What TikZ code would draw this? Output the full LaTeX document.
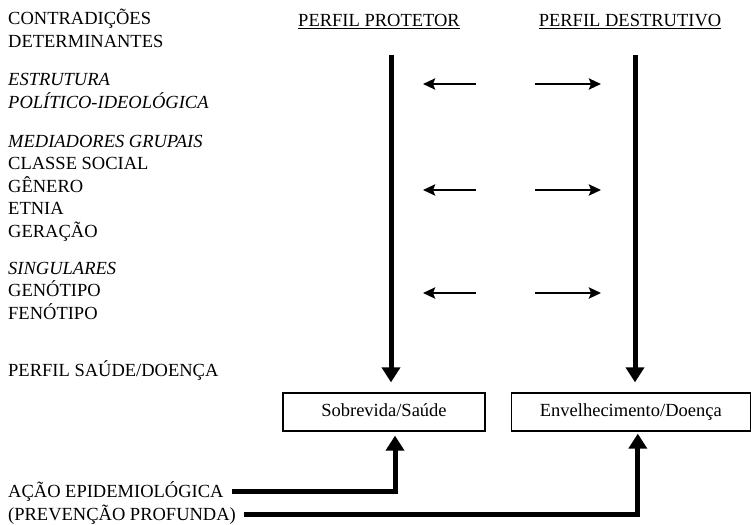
\documentclass[tikz,border=0pt]{standalone}
\usepackage{fontspec}
\setmainfont{Liberation Serif}
\usetikzlibrary{arrows.meta,positioning}
\tikzset{
txt/.style={font=\fontsize{18.5}{22.5}\selectfont, inner sep=0pt, align=left, anchor=base west}, % left column texts, base = last line
head/.style={font=\fontsize{18.5}{22.5}\selectfont, inner sep=0pt, anchor=base},
box/.style={draw, line width=1.3pt, minimum height=38pt, text height=13pt, text depth=4pt, font=\fontsize{18.5}{22.5}\selectfont},
flow/.style={line width=5pt, -{Triangle[width=18pt,length=15pt]}}, % the thick arrows
side/.style={line width=2.5pt, -{Stealth[width=11pt,length=12pt,inset=2pt]}},
}

\begin{document}
\begin{tikzpicture}[x=1pt,y=-1pt]
\useasboundingbox (0,0) rectangle (751,524);
% left column
\node[txt] (contra) at (8,47.5) {CONTRADIÇÕES\\DETERMINANTES};
\node[txt] (estrutura) at (8,108.5) {{\itshape ESTRUTURA}\\{\itshape POLÍTICO-IDEOLÓGICA}};
\node[txt] (mediadores) at (8,237) {{\itshape MEDIADORES GRUPAIS}\\CLASSE SOCIAL\\GÊNERO\\ETNIA\\GERAÇÃO};
\node[txt] (singulares) at (8,319) {{\itshape SINGULARES}\\GENÓTIPO\\FENÓTIPO};
\node[txt] (perfil) at (8,376) {PERFIL SAÚDE/DOENÇA};
\node[txt] (acao) at (8,497) {AÇÃO EPIDEMIOLÓGICA};
\node[txt] (prevencao) at (8,520) {(PREVENÇÃO PROFUNDA)};
% headings
\node[head] (protetor) at (379,27) {\underline{PERFIL PROTETOR}};
\node[head] (destrutivo) at (630,27) {\underline{PERFIL DESTRUTIVO}};
% boxes
\node[box, minimum width=202pt] (sobrevida) at (384,412) {Sobrevida/Saúde};
\node[box, minimum width=239pt, right=25pt of sobrevida] (envelhecimento) {Envelhecimento/Doença};
% vertical arrows
\coordinate (protTop) at (391,55);
\coordinate (destTop) at (635,55);
\draw[flow, shorten >=10pt] (protTop) -- (protTop |- sobrevida.north);
\draw[flow, shorten >=10pt] (destTop) -- (destTop |- envelhecimento.north);
% side arrows
\foreach \y [count=\i] in {84,190,293} {
  \coordinate (inA\i) at (476,\y);
  \coordinate (inB\i) at (423,\y);
  \coordinate (outA\i) at (535,\y);
  \coordinate (outB\i) at (601,\y);
  \draw[side] (inA\i) -- (inB\i);
  \draw[side] (outA\i) -- (outB\i);
}
% action
\draw[flow, shorten <=8pt, shorten >=4pt] (acao.east) -| ([xshift=11pt]sobrevida.south);
\draw[flow, shorten <=8pt, shorten >=2pt] (prevencao.east) -| ([xshift=7pt]envelhecimento.south);
\end{tikzpicture}
\end{document}
